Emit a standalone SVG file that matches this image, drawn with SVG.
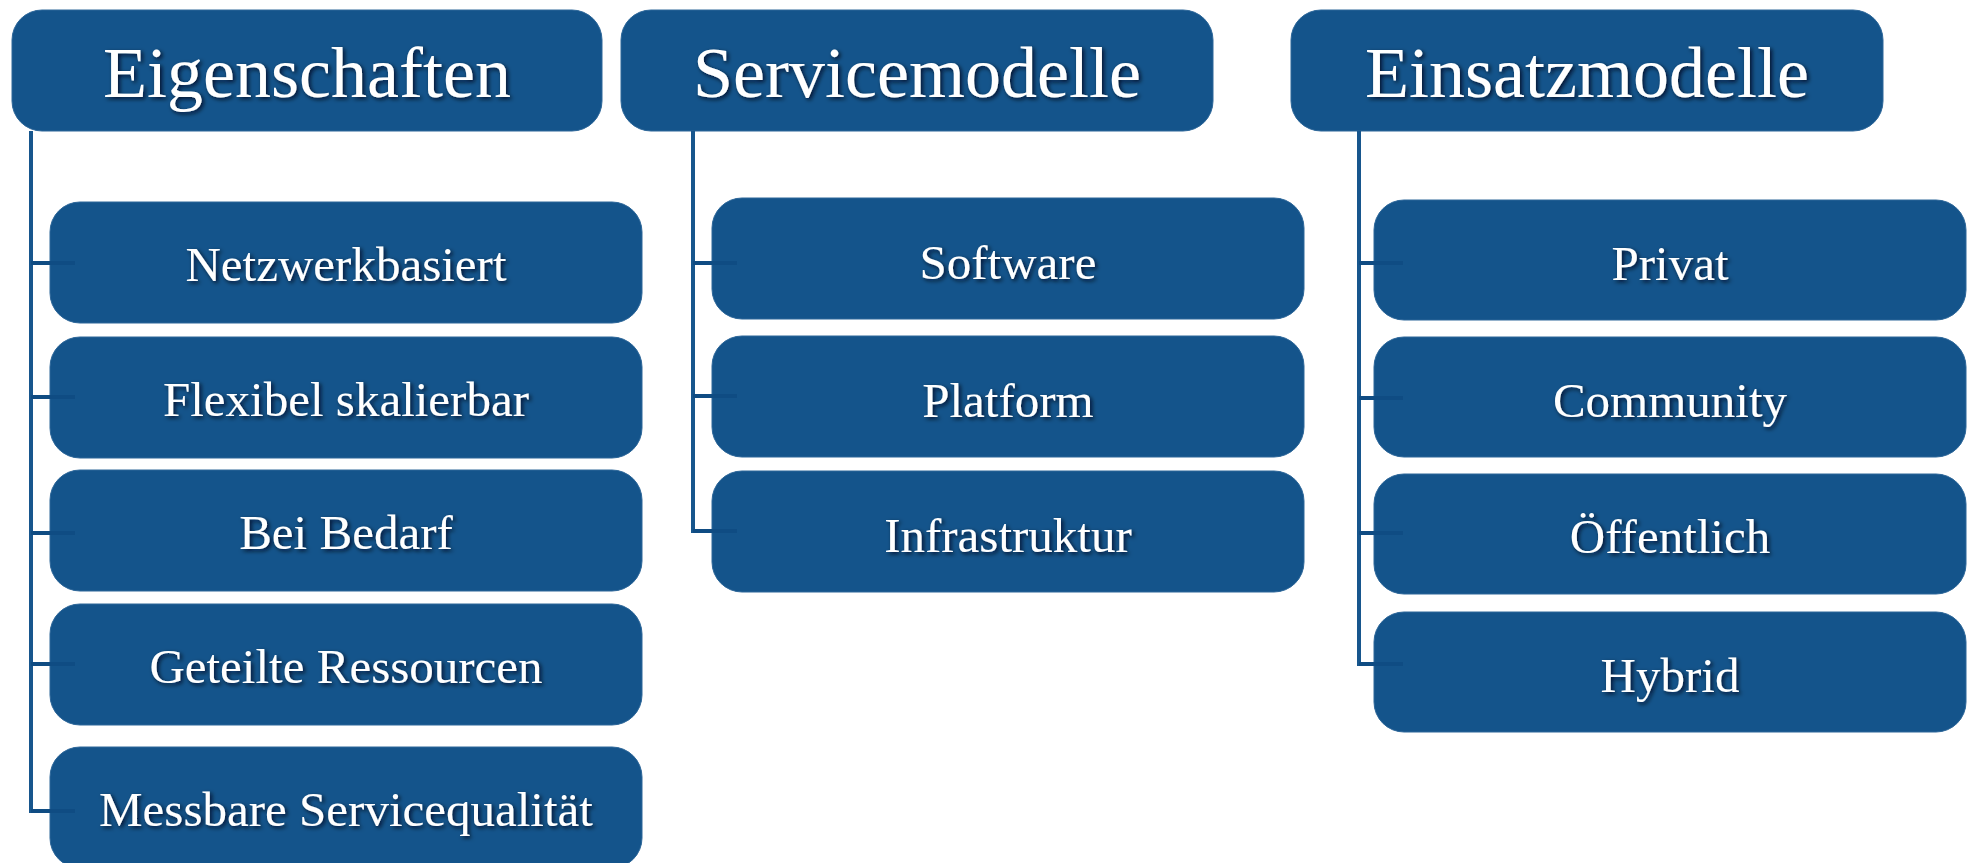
<svg xmlns="http://www.w3.org/2000/svg" width="1969" height="863" viewBox="0 0 1969 863">
<defs>
<filter id="glow" x="-10%" y="-30%" width="120%" height="160%">
<feGaussianBlur in="SourceAlpha" stdDeviation="2.2" result="b"/>
<feOffset in="b" dx="1.5" dy="1.5" result="o"/>
<feFlood flood-color="#000814" flood-opacity="0.8"/>
<feComposite in2="o" operator="in" result="s"/>
<feMerge><feMergeNode in="s"/><feMergeNode in="SourceGraphic"/></feMerge>
</filter>
</defs>
<style>
.box{fill:#14548b;stroke:#2c6699;stroke-width:1}
.hd{font-family:"Liberation Serif",serif;font-size:72px;fill:#ffffff;text-anchor:middle;filter:url(#glow)}
.lb{font-family:"Liberation Serif",serif;font-size:49px;fill:#ffffff;text-anchor:middle;filter:url(#glow)}
.v{stroke:#17568d;stroke-width:4;fill:none}
.h{stroke:#0f4c83;stroke-width:4;fill:none}
</style>
<rect width="1969" height="863" fill="#ffffff"/>

<g id="nodes">
<g id="eigenschaften"><rect class="box" x="12" y="10" width="590" height="121" rx="30"/><text class="hd" x="307" y="97">Eigenschaften</text></g>
<g id="servicemodelle"><rect class="box" x="621" y="10" width="592" height="121" rx="30"/><text class="hd" x="917" y="97">Servicemodelle</text></g>
<g id="einsatzmodelle"><rect class="box" x="1291" y="10" width="592" height="121" rx="30"/><text class="hd" x="1587" y="97">Einsatzmodelle</text></g>

<g id="netzwerkbasiert"><rect class="box" x="50" y="202" width="592" height="121" rx="30"/><text class="lb" x="346" y="281">Netzwerkbasiert</text></g>
<g id="flexibel"><rect class="box" x="50" y="337" width="592" height="121" rx="30"/><text class="lb" x="346" y="416">Flexibel skalierbar</text></g>
<g id="beibedarf"><rect class="box" x="50" y="470" width="592" height="121" rx="30"/><text class="lb" x="346" y="549">Bei Bedarf</text></g>
<g id="geteilte"><rect class="box" x="50" y="604" width="592" height="121" rx="30"/><text class="lb" x="346" y="683">Geteilte Ressourcen</text></g>
<g id="messbare"><rect class="box" x="50" y="747" width="592" height="121" rx="30"/><text class="lb" x="346" y="826">Messbare Servicequalität</text></g>

<g id="software"><rect class="box" x="712" y="198" width="592" height="121" rx="30"/><text class="lb" x="1008" y="279">Software</text></g>
<g id="platform"><rect class="box" x="712" y="336" width="592" height="121" rx="30"/><text class="lb" x="1008" y="417">Platform</text></g>
<g id="infrastruktur"><rect class="box" x="712" y="471" width="592" height="121" rx="30"/><text class="lb" x="1008" y="552">Infrastruktur</text></g>

<g id="privat"><rect class="box" x="1374" y="200" width="592" height="120" rx="30"/><text class="lb" x="1670" y="280">Privat</text></g>
<g id="community"><rect class="box" x="1374" y="337" width="592" height="120" rx="30"/><text class="lb" x="1670" y="417">Community</text></g>
<g id="oeffentlich"><rect class="box" x="1374" y="474" width="592" height="120" rx="30"/><text class="lb" x="1670" y="553">Öffentlich</text></g>
<g id="hybrid"><rect class="box" x="1374" y="612" width="592" height="120" rx="30"/><text class="lb" x="1670" y="692">Hybrid</text></g>
</g>

<g id="connectors">
<path class="v" d="M31 131 V813"/>
<path class="h" d="M31 263 H75 M31 397 H75 M31 533 H75 M31 664 H75 M31 811 H75"/>
<path class="v" d="M693 131 V533"/>
<path class="h" d="M693 263 H737 M693 396 H737 M693 531 H737"/>
<path class="v" d="M1359 131 V666"/>
<path class="h" d="M1359 263 H1403 M1359 398 H1403 M1359 533 H1403 M1359 664 H1403"/>
</g>
</svg>
